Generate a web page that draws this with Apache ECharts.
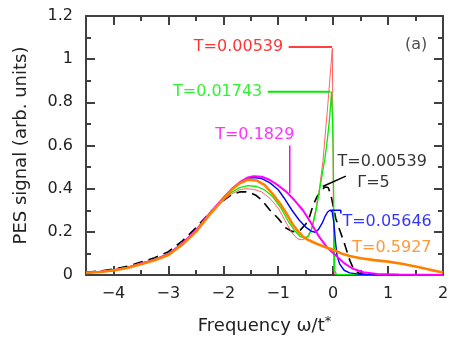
<!DOCTYPE html>
<html>
<head>
<meta charset="utf-8">
<script src="https://cdn.jsdelivr.net/npm/echarts@6/dist/echarts.min.js"></script>
<style>
  html, body { margin: 0; padding: 0; background: #fff; }
  #chartBox { width: 457px; height: 351px; }
</style>
</head>
<body>
<div id="chartBox"></div>
<script>
// tick values
var xMajor = [-4, -3, -2, -1, 0, 1, 2];
var xMinor = [-4.5, -3.5, -2.5, -1.5, -0.5, 0.5, 1.5];

// T=0.00539 (red)
var redX = [-4.5, -4.25, -4, -3.75, -3.5, -3.25, -3, -2.75, -2.5, -2.25, -2, -1.85, -1.7, -1.6, -1.45, -1.3, -1.15, -1, -0.85, -0.75, -0.65, -0.57, -0.48, -0.4, -0.32, -0.25, -0.185, -0.1, -0.015, 0, 0.01, 0.04, 2];
var redY = [0.012, 0.016, 0.023, 0.035, 0.054, 0.072, 0.098, 0.146, 0.207, 0.282, 0.345, 0.375, 0.395, 0.4, 0.397, 0.385, 0.355, 0.31, 0.24, 0.195, 0.168, 0.163, 0.172, 0.21, 0.3, 0.4, 0.53, 0.78, 1.05, 0.5, 0.02, 0, 0];

// T=0.01743 (green)
var greenX = [-4.5, -4.25, -4, -3.75, -3.5, -3.25, -3, -2.75, -2.5, -2.25, -2, -1.85, -1.7, -1.55, -1.4, -1.25, -1.1, -0.95, -0.82, -0.7, -0.6, -0.52, -0.45, -0.38, -0.31, -0.25, -0.2, -0.15, -0.1, -0.06, -0.03, 0, 0.015, 0.03, 0.06, 2];
var greenY = [0.012, 0.016, 0.023, 0.035, 0.054, 0.072, 0.098, 0.146, 0.207, 0.283, 0.348, 0.383, 0.405, 0.414, 0.41, 0.395, 0.362, 0.31, 0.25, 0.205, 0.178, 0.172, 0.18, 0.22, 0.3, 0.39, 0.465, 0.54, 0.64, 0.74, 0.85, 0.6, 0.2, 0.02, 0.003, 0];

// T=0.05646 (blue)
var blueX = [-4.5, -4.25, -4, -3.75, -3.5, -3.25, -3, -2.75, -2.5, -2.25, -2, -1.85, -1.7, -1.55, -1.45, -1.3, -1.15, -1, -0.88, -0.75, -0.62, -0.5, -0.4, -0.33, -0.27, -0.2, -0.15, -0.1, -0.06, -0.02, 0.01, 0.04, 0.07, 0.12, 0.2, 0.3, 0.5, 2];
var blueY = [0.011, 0.015, 0.022, 0.034, 0.053, 0.071, 0.097, 0.145, 0.206, 0.284, 0.355, 0.395, 0.427, 0.447, 0.452, 0.447, 0.427, 0.395, 0.352, 0.3, 0.255, 0.222, 0.203, 0.198, 0.21, 0.24, 0.27, 0.292, 0.3, 0.295, 0.25, 0.16, 0.09, 0.05, 0.022, 0.01, 0.003, 0];

// T=0.1829 (magenta)
var magX = [-4.5, -4.25, -4, -3.75, -3.5, -3.25, -3, -2.75, -2.5, -2.25, -2, -1.85, -1.7, -1.55, -1.45, -1.3, -1.15, -1, -0.85, -0.7, -0.55, -0.4, -0.25, -0.1, 0.05, 0.2, 0.35, 0.55, 0.8, 1.2, 2];
var magY = [0.011, 0.015, 0.022, 0.034, 0.053, 0.071, 0.097, 0.145, 0.206, 0.285, 0.357, 0.398, 0.43, 0.452, 0.458, 0.455, 0.44, 0.415, 0.385, 0.345, 0.3, 0.24, 0.175, 0.125, 0.09, 0.055, 0.03, 0.013, 0.005, 0.002, 0];

// T=0.5927 (orange)
var orangeX = [-4.5, -4.25, -4, -3.75, -3.5, -3.25, -3, -2.75, -2.5, -2.25, -2, -1.85, -1.7, -1.55, -1.4, -1.25, -1.1, -0.95, -0.85, -0.75, -0.65, -0.55, -0.45, -0.3, -0.15, 0, 0.15, 0.3, 0.5, 0.75, 1, 1.25, 1.5, 1.75, 2];
var orangeY = [0.010, 0.014, 0.021, 0.032, 0.05, 0.068, 0.093, 0.14, 0.2, 0.28, 0.352, 0.395, 0.425, 0.442, 0.438, 0.418, 0.375, 0.325, 0.285, 0.24, 0.205, 0.178, 0.162, 0.145, 0.13, 0.117, 0.1, 0.088, 0.078, 0.069, 0.062, 0.052, 0.039, 0.025, 0.012];

// T=0.00539, Gamma=5 (black dashed)
var blackX = [-4.5, -4.25, -4, -3.75, -3.5, -3.25, -3, -2.75, -2.5, -2.25, -2, -1.85, -1.7, -1.6, -1.5, -1.4, -1.3, -1.15, -1, -0.86, -0.75, -0.68, -0.6, -0.5, -0.43, -0.37, -0.3, -0.22, -0.15, -0.09, -0.04, 0, 0.05, 0.13, 0.2, 0.25, 0.3, 0.35, 0.42, 0.5, 0.7, 2];
var blackY = [0.013, 0.018, 0.027, 0.04, 0.06, 0.08, 0.108, 0.157, 0.218, 0.288, 0.345, 0.372, 0.385, 0.386, 0.381, 0.368, 0.347, 0.3, 0.262, 0.218, 0.202, 0.2, 0.208, 0.235, 0.27, 0.32, 0.36, 0.39, 0.408, 0.405, 0.37, 0.32, 0.26, 0.2, 0.15, 0.11, 0.07, 0.04, 0.015, 0.005, 0, 0];

// annotation texts and leader lines
var labelTexts = ['T=0.00539', 'T=0.01743', 'T=0.1829', 'T=0.00539', '\u0393=5', 'T=0.05646', 'T=0.5927', '(a)'];
var redLead = [[-0.81, 1.056], [-0.02, 1.056]];
var greenLead = [[-1.19, 0.849], [-0.05, 0.849]];
var magLead = [[-0.79, 0.6], [-0.79, 0.38]];
var blackLead = [[0.23, 0.458], [-0.19, 0.41]];
var blueLead = [[-0.05, 0.3], [0.14, 0.3], [0.14, 0.285]];

var FONT = 'DejaVu Sans';
var AXIS_COLOR = '#404040';

function zip(xs, ys) {
    var out = [];
    for (var i = 0; i < xs.length; i++) out.push([xs[i], ys[i]]);
    return out;
}

function curve(name, xs, ys, color, width, dash) {
    return {
        name: name,
        type: 'line',
        data: zip(xs, ys),
        showSymbol: false,
        symbol: 'none',
        lineStyle: {color: color, width: width, type: dash || 'solid'},
        z: 3
    };
}

function leader(pts, color, width) {
    return {
        type: 'line',
        data: pts,
        symbol: 'none',
        lineStyle: {color: color, width: width},
        z: 4
    };
}

function tag(x, y, text, color, pos, offset) {
    return {
        value: [x, y],
        label: {
            show: true,
            formatter: text,
            position: pos,
            distance: 0,
            offset: offset || [0, 0],
            color: color,
            fontSize: 16,
            fontFamily: FONT
        }
    };
}

function minusFmt(v) {
    return String(v).replace('-', '\u2212');
}

var xBase = {
    type: 'value', min: -4.5, max: 2, gridIndex: 0,
    splitLine: {show: false}
};

var myChart = echarts.init(document.getElementById('chartBox'));

var option = {
    animation: false,
    backgroundColor: '#fff',
    grid: {left: 86, right: 14, top: 16, bottom: 76},
    xAxis: [
        Object.assign({}, xBase, {
            position: 'bottom',
            axisLine: {show: true, onZero: false, lineStyle: {color: AXIS_COLOR, width: 2}},
            axisTick: {show: true, inside: true, length: 9, customValues: xMajor, lineStyle: {color: AXIS_COLOR, width: 2}},
            axisLabel: {show: true, customValues: xMajor, formatter: minusFmt, margin: 11, fontSize: 16, color: '#222', fontFamily: FONT},
            name: 'Frequency \u03c9/t{sup|*}',
            nameLocation: 'middle',
            nameGap: 40,
            nameTextStyle: {
                fontSize: 18, color: '#222', fontFamily: FONT,
                rich: {sup: {fontSize: 13, fontFamily: FONT, color: '#222', verticalAlign: 'top', padding: [0, 0, 10, 0]}}
            }
        }),
        Object.assign({}, xBase, {
            position: 'bottom',
            axisLine: {show: false, onZero: false},
            axisTick: {show: true, inside: true, length: 5, customValues: xMinor, lineStyle: {color: AXIS_COLOR, width: 2}},
            axisLabel: {show: false}
        }),
        Object.assign({}, xBase, {
            position: 'top',
            axisLine: {show: true, onZero: false, lineStyle: {color: AXIS_COLOR, width: 2}},
            axisTick: {show: true, inside: true, length: 9, customValues: xMajor, lineStyle: {color: AXIS_COLOR, width: 2}},
            axisLabel: {show: false}
        }),
        Object.assign({}, xBase, {
            position: 'top',
            axisLine: {show: false, onZero: false},
            axisTick: {show: true, inside: true, length: 5, customValues: xMinor, lineStyle: {color: AXIS_COLOR, width: 2}},
            axisLabel: {show: false}
        })
    ],
    yAxis: [
        {
            type: 'value', min: 0, max: 1.2, interval: 0.2,
            position: 'left',
            splitLine: {show: false},
            axisLine: {show: true, onZero: false, lineStyle: {color: AXIS_COLOR, width: 2}},
            axisTick: {show: true, inside: true, length: 9, lineStyle: {color: AXIS_COLOR, width: 2}},
            minorTick: {show: true, splitNumber: 2, length: 5, lineStyle: {color: AXIS_COLOR, width: 2}},
            axisLabel: {margin: 13, fontSize: 16, color: '#222', fontFamily: FONT},
            name: 'PES signal (arb. units)',
            nameLocation: 'middle',
            nameGap: 56,
            nameTextStyle: {fontSize: 18, color: '#222', fontFamily: FONT}
        },
        {
            type: 'value', min: 0, max: 1.2, interval: 0.2,
            position: 'right',
            splitLine: {show: false},
            axisLine: {show: true, onZero: false, lineStyle: {color: AXIS_COLOR, width: 2}},
            axisTick: {show: true, inside: true, length: 9, lineStyle: {color: AXIS_COLOR, width: 2}},
            minorTick: {show: true, splitNumber: 2, length: 5, lineStyle: {color: AXIS_COLOR, width: 2}},
            axisLabel: {show: false}
        }
    ],
    series: [
        curve('T=0.00539, Gamma=5', blackX, blackY, '#000', 1.6, [10, 6]),
        curve('T=0.00539', redX, redY, '#ff5050', 0.9),
        curve('T=0.01743', greenX, greenY, '#00ee00', 1.3),
        curve('T=0.05646', blueX, blueY, '#0000ff', 1.4),
        curve('T=0.1829', magX, magY, '#ff00ff', 2),
        curve('T=0.5927', orangeX, orangeY, '#ff8000', 2.6),
        leader(redLead, '#ff0000', 1.5),
        leader(greenLead, '#00ee00', 2),
        leader(magLead, '#ff00ff', 1.5),
        leader(blackLead, '#000', 1.5),
        leader(blueLead, '#0000ff', 1.5),
        {
            type: 'scatter',
            symbolSize: 1,
            itemStyle: {color: 'rgba(0,0,0,0)'},
            z: 5,
            data: [
                tag(-0.81, 1.056, labelTexts[0], '#ff0000', 'left', [-5, 0]),
                tag(-1.19, 0.849, labelTexts[1], '#00ee00', 'left', [-5, 0]),
                tag(-0.79, 0.6, labelTexts[2], '#ff00ff', 'top', [-35, -2]),
                tag(0.07, 0.525, labelTexts[3], '#000', 'right', [0, 0]),
                tag(0.43, 0.425, labelTexts[4], '#000', 'right', [0, 0]),
                tag(0.16, 0.247, labelTexts[5], '#0000ff', 'right', [0, 0]),
                tag(0.34, 0.128, labelTexts[6], '#ff8000', 'right', [0, 0]),
                tag(1.3, 1.065, labelTexts[7], '#222', 'right', [0, 0])
            ]
        }
    ]
};

myChart.setOption(option);
</script>
</body>
</html>
